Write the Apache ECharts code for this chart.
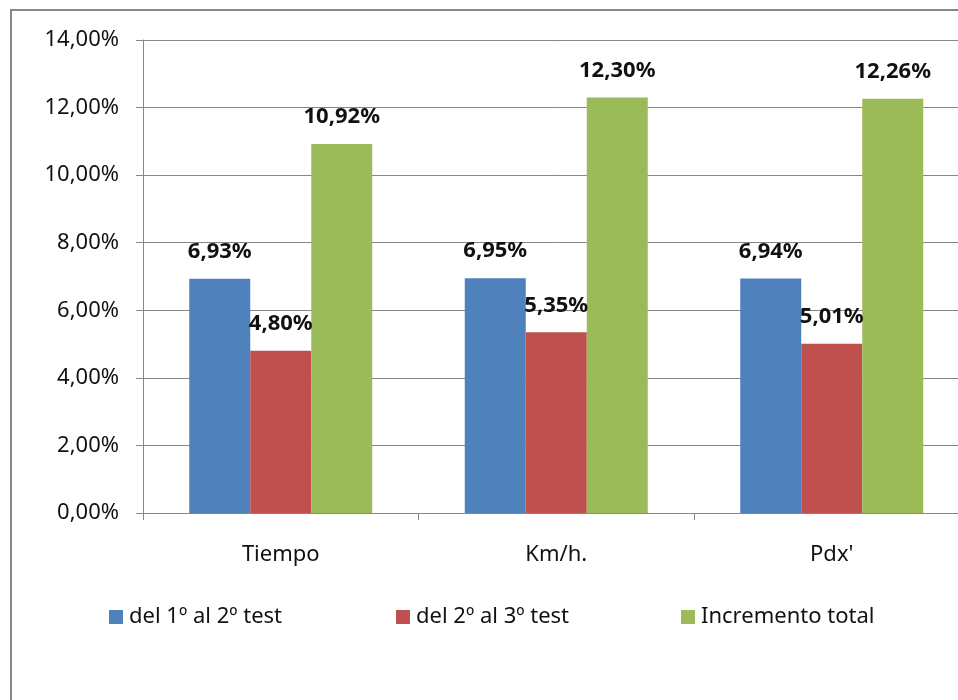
<!DOCTYPE html>
<html>
<head>
<meta charset="utf-8">
<script src="https://cdn.jsdelivr.net/npm/echarts@6/dist/echarts.min.js"></script>
<style>
  html, body { margin: 0; padding: 0; background: #ffffff; overflow: hidden; }
  #chart { width: 970px; height: 700px; }
</style>
</head>
<body>
<div id="chart"></div>
<script>
// Categories and percentage values for each comparison
const categories = ['Tiempo', 'Km/h.', "Pdx'"];
const seriesNames = ['del 1º al 2º test', 'del 2º al 3º test', 'Incremento total'];
const test1to2 = [6.93, 6.95, 6.94];
const test2to3 = [4.80, 5.35, 5.01];
const totalIncrease = [10.92, 12.30, 12.26];
const colors = ['#4F81BD', '#C0504D', '#9BBB59'];

const FONT = 'Noto Sans';
const fmt = v => v.toFixed(2).replace('.', ',') + '%';

const chart = echarts.init(document.getElementById('chart'), null, { renderer: 'canvas' });

function barSeries(name, data, color) {
  return {
    name: name,
    type: 'bar',
    data: data,
    barWidth: 61,
    barGap: '0%',
    itemStyle: { color: color },
    label: {
      show: true,
      position: 'top',
      distance: 16,
      formatter: p => fmt(p.value),
      fontFamily: FONT,
      fontWeight: 'bold',
      fontSize: 22,
      color: '#111111'
    }
  };
}

// one legend entry per series, each in its own slot
const legendLefts = [109, 396, 681];
const legends = seriesNames.map((n, i) => ({
  left: legendLefts[i],
  top: 606,
  padding: 0,
  itemWidth: 14,
  itemHeight: 14,
  itemGap: 0,
  icon: 'rect',
  textStyle: { fontFamily: FONT, fontSize: 22, color: '#111111', padding: [0, 0, 0, 1] },
  data: [n]
}));

chart.setOption({
  animation: false,
  color: colors,
  textStyle: { fontFamily: FONT },
  grid: { left: 143, top: 40, width: 826.5, height: 473 },
  graphic: [{
    type: 'rect',
    shape: { x: 11, y: 10, width: 1200, height: 1200 },
    style: { fill: 'none', stroke: '#878787', lineWidth: 2 },
    silent: true
  }],
  legend: legends,
  xAxis: {
    type: 'category',
    data: categories,
    axisLine: { lineStyle: { color: '#868686', width: 1 } },
    axisTick: { show: true, length: 7, lineStyle: { color: '#868686' } },
    axisLabel: { fontFamily: FONT, fontSize: 22, color: '#111111', margin: 31 }
  },
  yAxis: {
    type: 'value',
    min: 0,
    max: 14,
    interval: 2,
    axisLine: { show: true, lineStyle: { color: '#868686', width: 1 } },
    axisTick: { show: true, length: 7, lineStyle: { color: '#868686' } },
    splitLine: { lineStyle: { color: '#868686', width: 1 } },
    axisLabel: {
      fontFamily: FONT, fontSize: 22, color: '#111111', margin: 24,
      formatter: v => fmt(v)
    }
  },
  series: [
    barSeries(seriesNames[0], test1to2, colors[0]),
    barSeries(seriesNames[1], test2to3, colors[1]),
    barSeries(seriesNames[2], totalIncrease, colors[2])
  ]
});
</script>
</body>
</html>
